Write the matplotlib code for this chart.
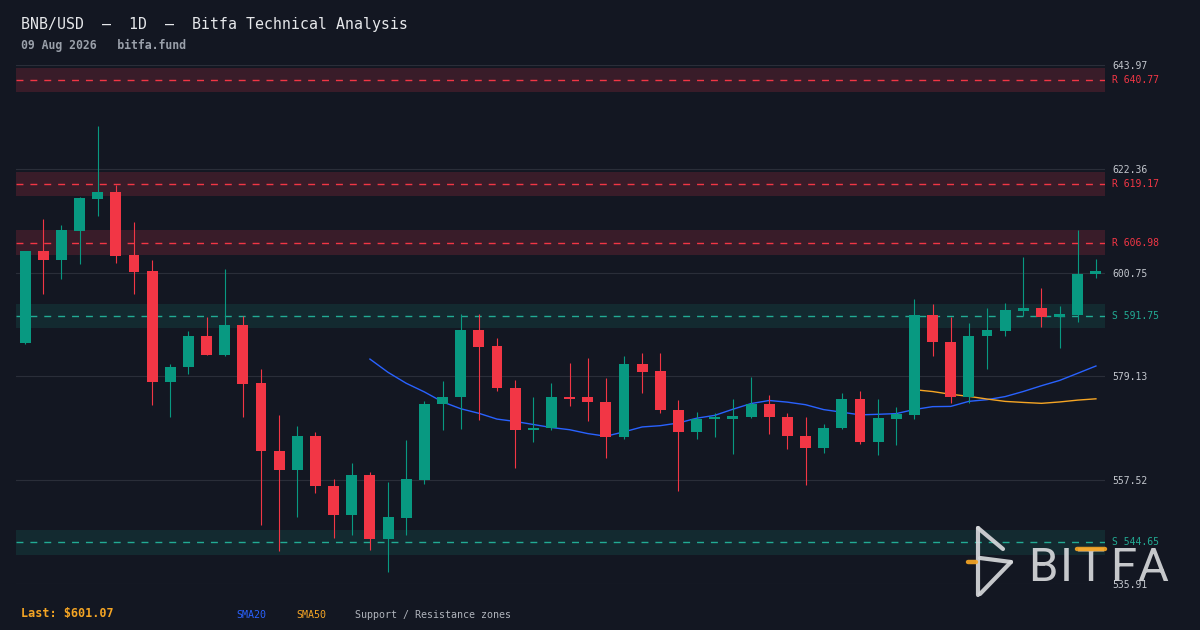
import numpy as np
import pandas as pd
import matplotlib
matplotlib.use("Agg")
import matplotlib.pyplot as plt
from matplotlib.lines import Line2D

# daily candles, oldest first
opens = [586.0, 605.15, 603.3, 609.3, 616.0, 617.45, 604.3, 601.0, 577.9, 581.0,
         587.6, 583.5, 589.9, 577.7, 563.7, 559.6, 566.8, 556.4, 550.4, 558.7,
         545.4, 549.8, 557.7, 573.4, 574.8, 588.9, 585.4, 576.8, 568.1, 568.4,
         574.9, 574.9, 573.9, 566.5, 581.8, 580.2, 572.2, 567.5, 570.2, 570.3,
         570.8, 573.5, 570.8, 566.8, 564.2, 568.4, 574.5, 565.6, 570.2, 571.2,
         592.0, 586.4, 574.8, 587.5, 588.6, 592.7, 593.3, 591.5, 592.0, 600.4]
highs = [605.3, 611.8, 610.6, 616.4, 631.2, 618.9, 611.2, 603.3, 581.8, 588.5,
         591.4, 601.4, 591.8, 580.6, 571.2, 568.9, 567.6, 557.9, 561.2, 559.3,
         557.2, 566.0, 574.1, 578.1, 592.2, 592.2, 587.2, 578.3, 574.9, 577.7,
         582.0, 582.9, 578.9, 583.3, 584.1, 584.1, 574.3, 571.8, 571.6, 574.5,
         579.1, 575.2, 571.6, 570.6, 569.3, 575.6, 576.2, 574.5, 572.7, 595.2,
         594.3, 591.6, 590.2, 593.3, 594.5, 603.9, 597.5, 593.7, 609.5, 603.5]
lows = [585.8, 596.3, 599.3, 602.5, 612.5, 602.7, 596.3, 573.1, 570.8, 579.6,
        583.5, 583.4, 570.6, 548.3, 542.9, 550.0, 555.0, 545.6, 546.1, 543.1,
        538.4, 546.1, 556.7, 568.1, 568.3, 570.0, 576.1, 560.0, 565.4, 567.9,
        572.9, 569.8, 562.1, 566.1, 575.7, 571.5, 555.4, 566.1, 566.5, 563.1,
        570.4, 567.1, 564.0, 556.5, 563.3, 568.3, 565.0, 562.7, 564.8, 570.2,
        583.4, 573.6, 573.6, 580.6, 587.5, 591.7, 589.4, 585.0, 590.4, 599.7]
closes = [605.15, 603.3, 609.5, 616.2, 617.45, 604.2, 600.8, 577.9, 581.2, 587.6,
          583.5, 589.9, 577.5, 563.6, 559.6, 566.8, 556.3, 550.4, 558.7, 545.4,
          549.9, 557.9, 573.5, 574.9, 588.9, 585.2, 576.7, 568.1, 568.5, 574.9,
          574.5, 573.8, 566.5, 581.8, 580.0, 572.1, 567.5, 570.2, 570.6, 570.9,
          573.5, 570.6, 566.7, 564.2, 568.5, 574.5, 565.6, 570.4, 571.4, 592.0,
          586.3, 574.8, 587.6, 588.7, 592.9, 593.3, 591.5, 592.2, 600.4, 601.07]

zone_levels = [640.77, 619.17, 606.98, 591.75, 544.65]
zone_types = ["R", "R", "R", "S", "S"]
zone_half = 2.55
y_ticks = [535.91, 557.52, 579.13, 600.75, 622.36, 643.97]
last_price = 601.07

BG = "#131722"
UP = "#089981"
DOWN = "#f23645"
TEAL = "#22ab94"
BLUE = "#2962ff"
ORANGE = "#f5a524"
GRID = "#2a2e39"
TXT = "#c3c7ce"

plt.rcParams["font.family"] = ["DejaVu Sans Mono", "DejaVu Sans"]

fig = plt.figure(figsize=(12, 6.3), dpi=100, facecolor=BG)
ax = fig.add_axes([16 / 1200, 1 - 584.3 / 630, 1089 / 1200, 519.6 / 630])
ax.set_facecolor(BG)

o = np.array(opens)
h = np.array(highs)
l = np.array(lows)
c = np.array(closes)
x = np.arange(len(c))
cols = np.where(c >= o, UP, DOWN)

# support / resistance zones
for lvl, kind in zip(zone_levels, zone_types):
    col = DOWN if kind == "R" else TEAL
    fill = "#391c29" if kind == "R" else "#132a30"
    ax.axhspan(lvl - zone_half, lvl + zone_half, color=fill, lw=0, zorder=1)
    ax.axhline(lvl, color=col, lw=1, ls=(0, (5, 5)), zorder=2)
    ax.annotate(f"{kind} {lvl:.2f}", xy=(1, lvl), xycoords=("axes fraction", "data"),
                xytext=(5, 0), textcoords="offset points", ha="left", va="center",
                color=col, fontsize=7, annotation_clip=False)

# moving averages
s = pd.Series(c)
ax.plot(x, s.rolling(20).mean(), color=BLUE, lw=1.0, zorder=3)
ax.plot(x, s.rolling(50).mean(), color=ORANGE, lw=1.0, zorder=3)

# candles
ax.vlines(x, l, h, colors=cols, lw=0.8, zorder=4)
body = np.maximum(np.abs(c - o), 0.35)
ax.bar(x, body, bottom=np.minimum(o, c), width=0.6, color=cols, lw=0, zorder=5)

ax.set_xlim(-0.5, len(c) - 0.5)
ax.set_ylim(y_ticks[0], y_ticks[-1])
ax.set_yticks(y_ticks)
ax.set_yticklabels([f"{t:.2f}" for t in y_ticks])
ax.yaxis.tick_right()
ax.tick_params(axis="y", length=0, pad=5, labelsize=7, labelcolor=TXT)
ax.set_xticks([])
ax.grid(axis="y", color=GRID, lw=0.8, zorder=0)
for sp in ax.spines.values():
    sp.set_visible(False)

# header
fig.text(21 / 1200, 1 - 24 / 630, "BNB/USD  \u2013  1D  \u2013  Bitfa Technical Analysis",
         color="#e6e8eb", fontsize=10.7, va="center", ha="left")
fig.text(21 / 1200, 1 - 45 / 630, "09 Aug 2026   bitfa.fund",
         color="#9aa0aa", fontsize=8.3, fontweight="bold", va="center", ha="left")

# footer legend
fig.text(21 / 1200, 1 - 613 / 630, f"Last: ${last_price:.2f}", color=ORANGE,
         fontsize=8.5, fontweight="bold", va="center", ha="left")
fig.text(236 / 1200, 1 - 615.5 / 630, "SMA20", color=BLUE, fontsize=7.2, va="center")
fig.text(296 / 1200, 1 - 615.5 / 630, "SMA50", color=ORANGE, fontsize=7.2, va="center")
fig.text(355 / 1200, 1 - 615.5 / 630, "Support / Resistance zones", color="#b0b4bc",
         fontsize=7.2, va="center")


# watermark logo
def fp(px, py):
    return px / 1200, 1 - py / 630


def seg(p0, p1, color, lw, z=10):
    a, b = fp(*p0)
    cc, d = fp(*p1)
    fig.add_artist(Line2D([a, cc], [b, d], color=color, lw=lw, alpha=0.92,
                          solid_capstyle="round", zorder=z))


LOGO = "#d6d8db"
seg((978, 528), (978, 595), LOGO, 3.0)
seg((978, 528), (1003, 549), LOGO, 3.0)
seg((980, 558), (1011, 562), LOGO, 3.0)
seg((1011, 562), (980, 594), LOGO, 3.0)
seg((968, 562), (976, 562), ORANGE, 3.2)
for ch, px in zip("BITFA", [1042.5, 1066, 1091, 1123, 1152.5]):
    fig.text(px / 1200, 1 - 581 / 630, ch, color=LOGO, alpha=0.92, fontsize=34,
             family="Roboto", ha="center", va="baseline", zorder=10)
seg((1077, 549), (1105, 549), ORANGE, 3.2, z=11)

fig.savefig("out.png", dpi=100, facecolor=BG)
